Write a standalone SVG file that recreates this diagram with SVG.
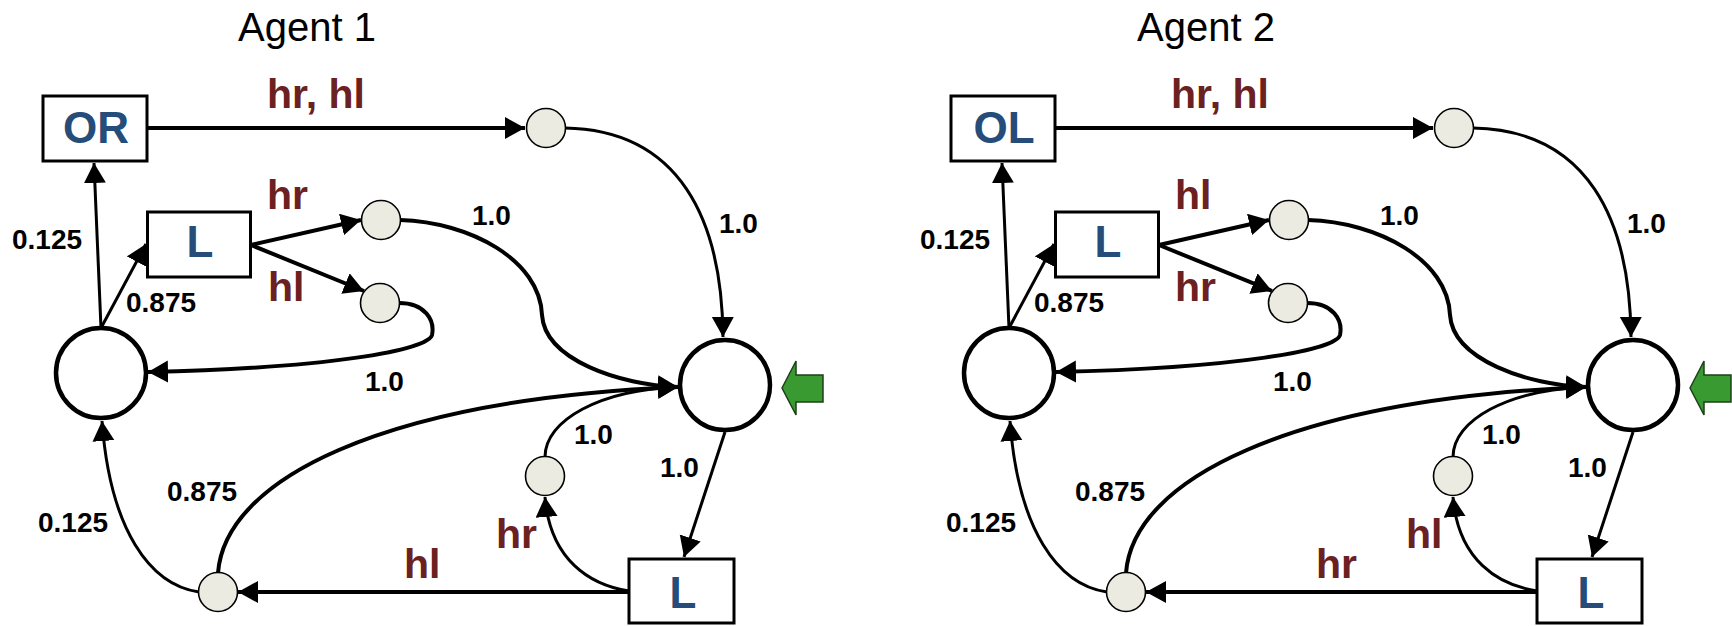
<svg xmlns="http://www.w3.org/2000/svg" width="1732" height="626" viewBox="0 0 1732 626">
<style>
.bg{fill:#fff}
.box{fill:#fff;stroke:#000;stroke-width:3}
.big{fill:#fff;stroke:#000;stroke-width:4.5}
.sm{fill:#ecebe1;stroke:#000;stroke-width:1.6}
.e{fill:none;stroke:#000;stroke-width:3;marker-end:url(#ah)}
.et{fill:none;stroke:#000;stroke-width:4;marker-end:url(#ah)}
.title{font-family:"Liberation Sans",Arial,sans-serif;font-size:40px;fill:#000}
.nl{font-family:"Liberation Sans",Arial,sans-serif;font-size:44px;font-weight:bold;fill:#264d7a;text-anchor:middle}
.num{font-family:"Liberation Sans",Arial,sans-serif;font-size:28px;font-weight:bold;fill:#000}
.act{font-family:"Liberation Sans",Arial,sans-serif;font-size:41px;font-weight:bold;fill:#6b2121}
.start{fill:#3a9a32;stroke:#1f3f1a;stroke-width:1.5}
</style>
<defs>
<marker id="ah" markerUnits="userSpaceOnUse" markerWidth="22" markerHeight="24" refX="20" refY="11" orient="auto">
<path d="M0,0 L20,11 L0,22 z" fill="#000"/>
</marker>
</defs>
<rect class="bg" x="0" y="0" width="1732" height="626"/>

<g id="agent1">
<text id="a1-title" class="title" x="238" y="41">Agent 1</text>
<g id="a1-connectors">
<path class="et" d="M147,128 L525,128"/>
<path class="e" d="M565,128 C680,130 722,220 723,337"/>
<path class="e" d="M101,328 L94,163"/>
<path class="e" d="M101,328 L146,244"/>
<path class="et" d="M251,245 L361,220"/>
<path class="et" d="M251,245 L364,291"/>
<path class="et" d="M400,220 C470,222 540,260 542,315 C545,360 620,385 678,387"/>
<path class="et" d="M399,303 C425,303 435,320 432,335 C428,350 330,368 148,372"/>
<path class="e" d="M725,432 L684,557"/>
<path class="e" d="M629,591 C590,585 550,560 545,497"/>
<path class="e" d="M545,457 C545,420 600,390 678,387"/>
<path class="et" d="M629,592 L238,592"/>
<path class="e" d="M199,592 C150,585 110,530 102,421"/>
<path class="et" d="M218,573 C225,480 380,400 678,387"/>
<text class="act" x="267" y="108">hr, hl</text>
<text class="act" x="267" y="209">hr</text>
<text class="act" x="268" y="301">hl</text>
<text class="act" x="496" y="548">hr</text>
<text class="act" x="404" y="578">hl</text>
<text class="num" x="719" y="233">1.0</text>
<text class="num" x="472" y="225">1.0</text>
<text class="num" x="12" y="249">0.125</text>
<text class="num" x="126" y="312">0.875</text>
<text class="num" x="365" y="391">1.0</text>
<text class="num" x="574" y="444">1.0</text>
<text class="num" x="660" y="477">1.0</text>
<text class="num" x="167" y="501">0.875</text>
<text class="num" x="38" y="532">0.125</text>
</g>
<g id="a1-OR"><rect class="box" x="43" y="96" width="104" height="65"/><text class="nl" x="96" y="143">OR</text></g>
<g id="a1-L-top"><rect class="box" x="147.5" y="212" width="103" height="65"/><text class="nl" x="200" y="257">L</text></g>
<g id="a1-L-bottom"><rect class="box" x="629" y="559" width="105" height="64"/><text class="nl" x="683" y="608">L</text></g>
<g id="a1-state-left"><circle class="big" cx="101" cy="373" r="45"/></g>
<g id="a1-state-right"><circle class="big" cx="725" cy="385" r="45"/></g>
<g id="a1-n1"><circle class="sm" cx="546" cy="128" r="19.5"/></g>
<g id="a1-n2"><circle class="sm" cx="381" cy="220" r="19.5"/></g>
<g id="a1-n3"><circle class="sm" cx="380" cy="303" r="19.5"/></g>
<g id="a1-n4"><circle class="sm" cx="545" cy="476" r="19.5"/></g>
<g id="a1-n5"><circle class="sm" cx="218" cy="592" r="19.5"/></g>
<g id="a1-start"><polygon class="start" points="782,388 796,361 796,375 823,375 823,402 796,402 796,415"/></g>
</g>

<g id="agent2" transform="translate(908,0)">
<text id="a2-title" class="title" x="229" y="41">Agent 2</text>
<g id="a2-connectors">
<path class="et" d="M147,128 L525,128"/>
<path class="e" d="M565,128 C680,130 722,220 723,337"/>
<path class="e" d="M101,328 L94,163"/>
<path class="e" d="M101,328 L146,244"/>
<path class="et" d="M251,245 L361,220"/>
<path class="et" d="M251,245 L364,291"/>
<path class="et" d="M400,220 C470,222 540,260 542,315 C545,360 620,385 678,387"/>
<path class="et" d="M399,303 C425,303 435,320 432,335 C428,350 330,368 148,372"/>
<path class="e" d="M725,432 L684,557"/>
<path class="e" d="M629,591 C590,585 550,560 545,497"/>
<path class="e" d="M545,457 C545,420 600,390 678,387"/>
<path class="et" d="M629,592 L238,592"/>
<path class="e" d="M199,592 C150,585 110,530 102,421"/>
<path class="et" d="M218,573 C225,480 380,400 678,387"/>
<text class="act" x="263" y="108">hr, hl</text>
<text class="act" x="267" y="209">hl</text>
<text class="act" x="267" y="301">hr</text>
<text class="act" x="498" y="548">hl</text>
<text class="act" x="408" y="578">hr</text>
<text class="num" x="719" y="233">1.0</text>
<text class="num" x="472" y="225">1.0</text>
<text class="num" x="12" y="249">0.125</text>
<text class="num" x="126" y="312">0.875</text>
<text class="num" x="365" y="391">1.0</text>
<text class="num" x="574" y="444">1.0</text>
<text class="num" x="660" y="477">1.0</text>
<text class="num" x="167" y="501">0.875</text>
<text class="num" x="38" y="532">0.125</text>
</g>
<g id="a2-OL"><rect class="box" x="43" y="96" width="104" height="65"/><text class="nl" x="96" y="143">OL</text></g>
<g id="a2-L-top"><rect class="box" x="147.5" y="212" width="103" height="65"/><text class="nl" x="200" y="257">L</text></g>
<g id="a2-L-bottom"><rect class="box" x="629" y="559" width="105" height="64"/><text class="nl" x="683" y="608">L</text></g>
<g id="a2-state-left"><circle class="big" cx="101" cy="373" r="45"/></g>
<g id="a2-state-right"><circle class="big" cx="725" cy="385" r="45"/></g>
<g id="a2-n1"><circle class="sm" cx="546" cy="128" r="19.5"/></g>
<g id="a2-n2"><circle class="sm" cx="381" cy="220" r="19.5"/></g>
<g id="a2-n3"><circle class="sm" cx="380" cy="303" r="19.5"/></g>
<g id="a2-n4"><circle class="sm" cx="545" cy="476" r="19.5"/></g>
<g id="a2-n5"><circle class="sm" cx="218" cy="592" r="19.5"/></g>
<g id="a2-start"><polygon class="start" points="782,388 796,361 796,375 823,375 823,402 796,402 796,415"/></g>
</g>
</svg>
